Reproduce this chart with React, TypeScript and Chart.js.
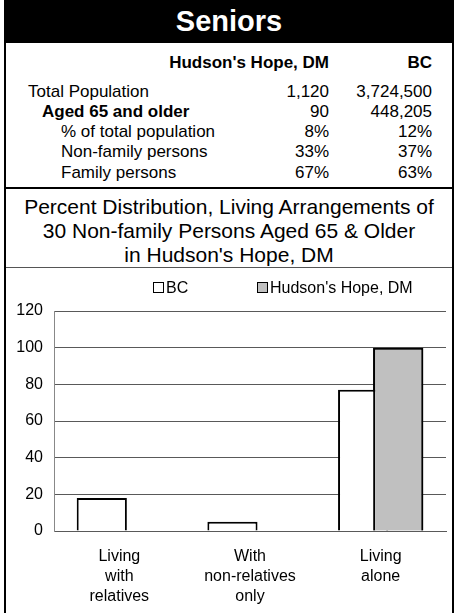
import React, { useEffect, useRef } from "react";
import { Chart, registerables } from "chart.js";

Chart.register(...registerables);

const title = "Seniors";
const areaHeaders = ["Hudson's Hope, DM", "BC"];
const rowLabels = ["Total Population", "Aged 65 and older", "% of total population", "Non-family persons", "Family persons"];
const hudsonValues = ["1,120", "90", "8%", "33%", "67%"];
const bcValues = ["3,724,500", "448,205", "12%", "37%", "63%"];
const subtitleLines = [
  "Percent Distribution, Living Arrangements of",
  "30 Non-family Persons Aged 65 & Older",
  "in Hudson's Hope, DM",
];

const categories = [["Living", "with", "relatives"], ["With", "non-relatives", "only"], ["Living", "alone"]];
const seriesNames = ["BC", "Hudson's Hope, DM"];
const bcSeries = [18, 5, 77];
const hudsonSeries = [0, 0, 100];
const yTicks = { min: 0, max: 120, step: 20 };

const FONT = "'Liberation Sans', Arial, Helvetica, sans-serif";
const seriesColors = ["#ffffff", "#c0c0c0"];

const rowStyles = [
  { indent: 22, bold: false, top: 39 },
  { indent: 36, bold: true, top: 59 },
  { indent: 55, bold: false, top: 79 },
  { indent: 55, bold: false, top: 99 },
  { indent: 55, bold: false, top: 120 },
];

const hudsonOnTop = {
  id: "hudsonOnTop",
  afterDatasetsDraw(chart: any) {
    const meta = chart.getDatasetMeta(1);
    if (meta && !meta.hidden) meta.controller.draw();
  },
};

function BarChart() {
  const ref = useRef<HTMLCanvasElement | null>(null);
  useEffect(() => {
    if (!ref.current) return;
    const tickFont = { family: FONT, size: 16, lineHeight: 1.25 };
    const chart = new Chart(ref.current, {
      type: "bar",
      data: {
        labels: categories,
        datasets: [
          {
            label: seriesNames[0],
            data: bcSeries,
            backgroundColor: seriesColors[0],
            borderColor: "#000",
            borderWidth: 2,
            categoryPercentage: 0.537,
            barPercentage: 1.43,
          },
          {
            label: seriesNames[1],
            data: hudsonSeries,
            backgroundColor: seriesColors[1],
            borderColor: "#000",
            borderWidth: 2,
            categoryPercentage: 0.537,
            barPercentage: 1.43,
          },
        ],
      },
      options: {
        responsive: false,
        animation: false,
        layout: { padding: { left: 0, right: 6, top: 43, bottom: 0 } },
        plugins: { legend: { display: false }, tooltip: { enabled: false } },
        scales: {
          x: {
            grid: { display: false, drawTicks: false },
            border: { display: true, color: "#595959" },
            ticks: { color: "#000", font: tickFont, padding: 16, maxRotation: 0, autoSkip: false },
            afterFit: (s: any) => {
              s.height = 83;
            },
          },
          y: {
            min: yTicks.min,
            max: yTicks.max,
            ticks: { stepSize: yTicks.step, color: "#000", font: tickFont, padding: 11 },
            grid: { color: "#595959", drawTicks: false },
            border: { display: true, color: "#888" },
            afterFit: (s: any) => {
              s.width = 48;
            },
          },
        },
      },
      plugins: [hudsonOnTop],
    });
    return () => chart.destroy();
  }, []);
  return <canvas ref={ref} width={446} height={346} style={{ display: "block", width: 446, height: 346 }} />;
}

export default function App() {
  return (
    <div
      style={{
        position: "absolute",
        left: 4,
        top: 0,
        width: 446,
        height: 613,
        borderLeft: "2px solid #000",
        borderRight: "2px solid #000",
        background: "#fff",
        fontFamily: FONT,
        color: "#000",
        overflow: "hidden",
      }}
    >
      <div
        style={{
          height: 43,
          background: "#000",
          color: "#fff",
          fontWeight: "bold",
          fontSize: 29,
          lineHeight: "43px",
          textAlign: "center",
        }}
      >
        {title}
      </div>
      <div style={{ position: "relative", height: 144, borderBottom: "2px solid #000", fontSize: 17 }}>
        <div style={{ position: "absolute", top: 10, right: 123, lineHeight: "20px", fontWeight: "bold", whiteSpace: "nowrap" }}>
          {areaHeaders[0]}
        </div>
        <div style={{ position: "absolute", top: 10, right: 20, lineHeight: "20px", fontWeight: "bold", whiteSpace: "nowrap" }}>
          {areaHeaders[1]}
        </div>
        {rowLabels.map((lab, i) => (
          <React.Fragment key={lab}>
            <div
              style={{
                position: "absolute",
                top: rowStyles[i].top,
                left: rowStyles[i].indent,
                lineHeight: "20px",
                fontWeight: rowStyles[i].bold ? "bold" : "normal",
                whiteSpace: "nowrap",
              }}
            >
              {lab}
            </div>
            <div style={{ position: "absolute", top: rowStyles[i].top, right: 123, lineHeight: "20px", whiteSpace: "nowrap" }}>
              {hudsonValues[i]}
            </div>
            <div style={{ position: "absolute", top: rowStyles[i].top, right: 20, lineHeight: "20px", whiteSpace: "nowrap" }}>
              {bcValues[i]}
            </div>
          </React.Fragment>
        ))}
      </div>
      <div
        style={{
          height: 72,
          paddingTop: 6,
          borderBottom: "1px solid #555",
          fontSize: 21,
          lineHeight: "24px",
          textAlign: "center",
          whiteSpace: "nowrap",
        }}
      >
        {subtitleLines.map((l) => (
          <div key={l}>{l}</div>
        ))}
      </div>
      <div style={{ position: "relative", height: 346 }}>
        <div style={{ position: "absolute", top: 10, left: 147, display: "flex", alignItems: "center", fontSize: 16, lineHeight: "19px" }}>
          <span style={{ display: "inline-block", width: 9, height: 9, border: "1px solid #000", background: seriesColors[0], marginRight: 2 }} />
          <span>{seriesNames[0]}</span>
        </div>
        <div style={{ position: "absolute", top: 10, left: 251, display: "flex", alignItems: "center", fontSize: 16, lineHeight: "19px" }}>
          <span style={{ display: "inline-block", width: 9, height: 9, border: "1px solid #000", background: seriesColors[1], marginRight: 2 }} />
          <span>{seriesNames[1]}</span>
        </div>
        <BarChart />
      </div>
    </div>
  );
}
